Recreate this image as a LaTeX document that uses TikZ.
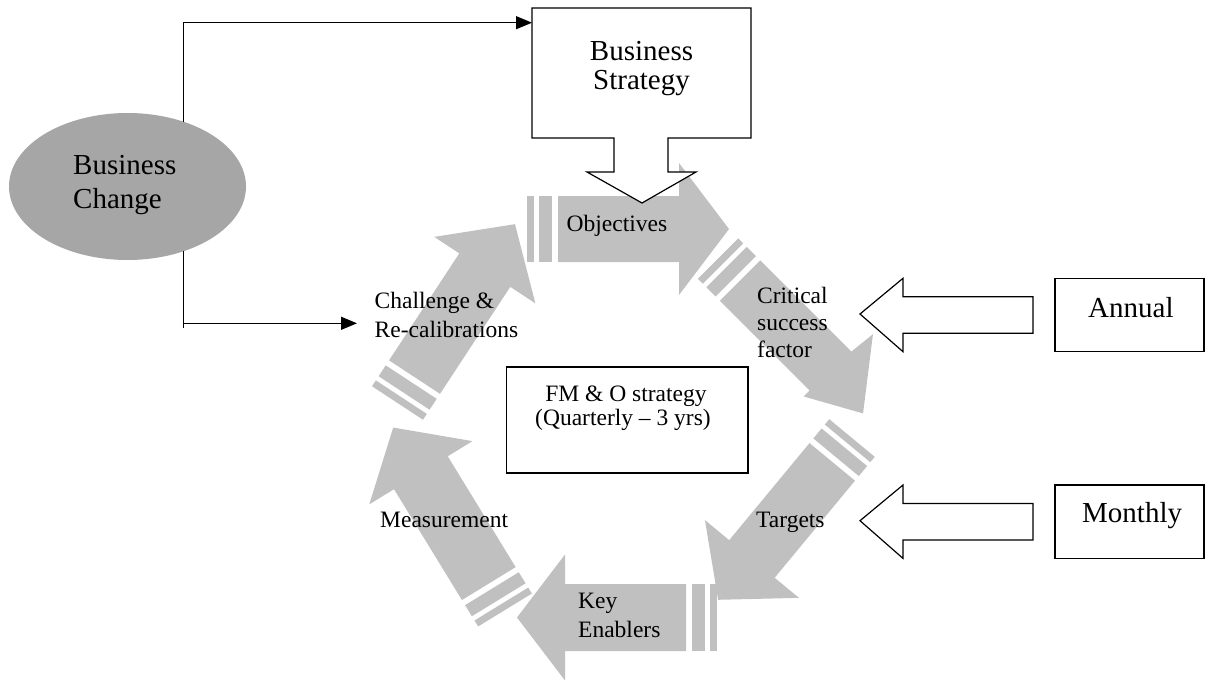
\documentclass[tikz,border=0pt]{standalone}
\usepackage{fontspec}
\setmainfont{Liberation Serif}
\usetikzlibrary{shapes.geometric,arrows.meta,calc}
\definecolor{arrowgrey}{HTML}{C0C0C0}
\definecolor{ellgrey}{HTML}{A6A6A6}
\newcommand\bigtxt{\fontsize{29pt}{33pt}\selectfont}
\newcommand\smalltxt{\fontsize{23.5pt}{27pt}\selectfont}
% #1 tail centre, #2 rotation, #3 shaft half width, #4 head half width, #5 head base, #6 tip
\newcommand\stripedarrow[6]{%
  \begin{scope}[shift={#1},rotate=#2]
    \fill[arrowgrey] (0,-#3) rectangle (7,#3);
    \fill[arrowgrey] (12,-#3) rectangle (25,#3);
    \fill[arrowgrey] (31,-#3) -- (#5,-#3) -- (#5,-#4) -- (#6,0) -- (#5,#4) -- (#5,#3) -- (31,#3) -- cycle;
  \end{scope}}
\begin{document}
\begin{tikzpicture}[x=1pt,y=-1pt,
  outline/.style={draw=black,line width=1.2pt,fill=white,line join=miter},
  boxst/.style={draw=black,line width=1.2pt,fill=white,inner sep=0pt,outer sep=0pt},
  conn/.style={line width=1.2pt,-{Triangle[length=16pt,width=13pt]}},
  lbl/.style={inner sep=0pt,anchor=base west,font=\smalltxt},
  lblc/.style={inner sep=0pt,anchor=base,font=\smalltxt},
  big/.style={inner sep=0pt,anchor=base west,font=\bigtxt},
  bigc/.style={inner sep=0pt,anchor=base,font=\bigtxt}]
\useasboundingbox (0,0) rectangle (1205,682);

% Business change ellipse and its connectors
\node[ellipse,fill=ellgrey,minimum width=237pt,minimum height=147pt,inner sep=0pt,outer sep=0pt] (bc) at (127.5,186.5) {};
\coordinate (bsin) at (532,22.7);
\coordinate (crin) at (357,323.3);
\draw[conn] (bc.49.5) |- (bsin);
\draw[line width=1.2pt] (bc.-49.5) -- ($(bc.-49.5 |- crin)+(0,5)$);
\draw[conn] (bc.-49.5 |- crin) -- (crin);

% grey striped arrows of the cycle
\stripedarrow{(527,229)}{0}{33}{66}{152}{202}        % Objectives
\stripedarrow{(717,617.5)}{180}{33.5}{63}{152}{200}  % Key enablers
\stripedarrow{(852,438)}{-129.6}{29.5}{61}{157}{210} % Targets
\stripedarrow{(505,610)}{121.5}{31.5}{60.5}{161}{214} % Measurement
\stripedarrow{(397.5,403)}{56.7}{30.5}{60.5}{159}{214} % Challenge
\begin{scope}[shift={(740,280.5)},rotate=-45]        % Critical success factor
  \fill[arrowgrey] (-31,-28.5) rectangle (-24,28.5);
  \fill[arrowgrey] (-19,-28.5) rectangle (-6,28.5);
  \fill[arrowgrey] (0,-28.5) -- (129,-28.5) -- (132,-56) -- (181,7) -- (127,37) -- (127,28.5) -- (0,28.5) -- cycle;
\end{scope}

% Business strategy callout
\draw[outline] (532,8) -- (751,8) -- (751,138) -- (668,138) -- (668,172) -- (696,172) -- (642,203)
  -- (587,172) -- (614,172) -- (614,138) -- (532,138) -- cycle;

% outline arrows from the right
\draw[outline] (860,314) -- (903,278.3) -- (903,296.7) -- (1033,296.7) -- (1033,333.3) -- (903,333.3) -- (903,351.7) -- cycle;
\draw[outline] (860,520.7) -- (903,485) -- (903,503.4) -- (1033,503.4) -- (1033,540) -- (903,540) -- (903,558.4) -- cycle;

% boxes
\node[boxst,minimum width=241.5pt,minimum height=106pt] (fm) at (627.25,420) {};
\node[boxst,minimum width=149pt,minimum height=73.4pt] (annualbox) at (1129.5,315) {};
\node[boxst,minimum width=149pt,minimum height=73.4pt] (monthlybox) at (1129.5,521.7) {};

% texts
\node[bigc] (bs1) at (641.5,61) {Business};
\node[bigc] (bs2) at (641.5,90) {Strategy};
\node[big] (bc1) at (73,175) {Business};
\node[big] (bc2) at (73,208) {Change};
\node[big] (an) at (1088,317) {Annual};
\node[big] (mo) at (1082,522) {Monthly};
\node[lbl] (obj) at (566.5,231) {Objectives};
\node[lbl] (csf1) at (757,303) {Critical};
\node[lbl] (csf2) at (757,330) {success};
\node[lbl] (csf3) at (757,357) {factor};
\node[lbl] (tg) at (756,527) {Targets};
\node[lbl] (ke1) at (578,608) {Key};
\node[lbl] (ke2) at (578,637) {Enablers};
\node[lbl] (ms) at (380,527) {Measurement};
\node[lbl] (ch1) at (374.5,308.5) {Challenge \&};
\node[lbl] (ch2) at (374.5,337) {Re-calibrations};
\node[lblc] (fm1) at (626,401) {FM \& O strategy};
\node[lblc] (fm2) at (623,425) {(Quarterly – 3 yrs)};
\end{tikzpicture}
\end{document}
